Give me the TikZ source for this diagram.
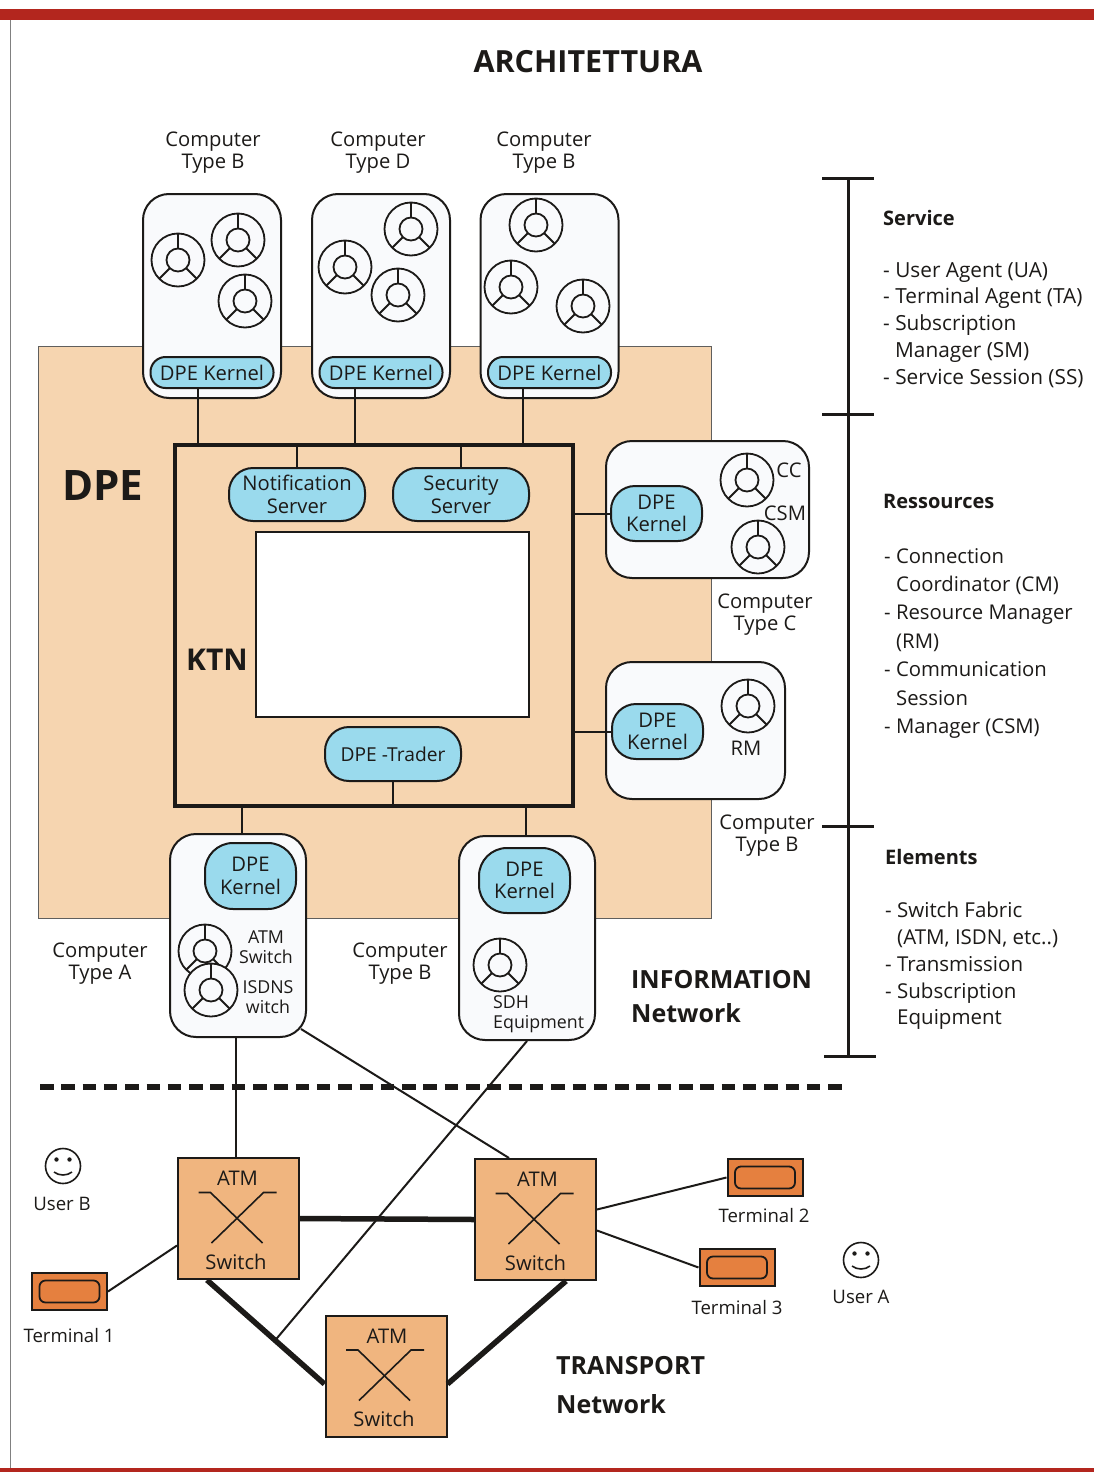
\documentclass[tikz,border=0pt]{standalone}
\usepackage{fontspec}
\setmainfont{Open Sans}
\usetikzlibrary{calc}
\definecolor{bandred}{HTML}{B3261E}
\definecolor{dpetan}{HTML}{F6D5B0}
\definecolor{kernelblue}{HTML}{9ADAED}
\definecolor{switchtan}{HTML}{F0B57F}
\definecolor{termorange}{HTML}{E5803F}
\definecolor{compwhite}{HTML}{F9FAFC}
\definecolor{inkdark}{HTML}{1C1A18}
\newcommand{\lab}{\fontsize{20.2}{22.5}\selectfont}
\newcommand{\smalllab}{\fontsize{17.8}{20.5}\selectfont}
\newcommand{\userlab}{\fontsize{18.6}{21}\selectfont}
\newcommand{\heading}{\fontsize{20}{24}\selectfont\bfseries}
\tikzset{
  every node/.style={text=inkdark,inner sep=0pt,align=center},
  comp/.style={draw=inkdark,line width=2pt,fill=compwhite,rounded corners=26pt},
  kernel/.style={draw=inkdark,line width=2pt,fill=kernelblue,rounded corners=15pt,font=\lab},
  server/.style={kernel,rounded corners=24pt,minimum width=136pt},
  kernelbig/.style={kernel,rounded corners=24pt,minimum width=91pt},
  swbox/.style={draw=inkdark,line width=2pt,fill=switchtan,minimum width=121pt,minimum height=121pt},
  term/.style={draw=inkdark,line width=2pt,fill=termorange,minimum width=75pt,minimum height=37pt},
  lbl/.style={font=\lab},
  link/.style={draw=inkdark,line width=2pt},
  trunk/.style={draw=inkdark,line width=5.5pt},
  agent/.pic={
    \draw[inkdark,line width=1.8pt,fill=compwhite] (0,0) circle (26.5);
    \draw[inkdark,line width=1.8pt] (0,0) circle (11.5);
    \foreach \a in {270,135,45}
      \draw[inkdark,line width=1.8pt] (\a:11.5) -- (\a:26.5);
  },
  smiley/.pic={
    \draw[inkdark,line width=1.6pt] (0,0) circle (17.5);
    \fill[inkdark] (-6.5,-6.5) circle (2.2) (6.5,-6.5) circle (2.2);
    \draw[inkdark,line width=1.6pt] (-9,6) .. controls (-4,10) and (4,10) .. (9,6);
  },
  crossing/.pic={
    \draw[inkdark,line width=1.6pt] (-40,-26) -- (-28,-26) -- (24,24.5);
    \draw[inkdark,line width=1.6pt] (38,-26) -- (25,-26) -- (-27,24.5);
  }
}
\begin{document}
\begin{tikzpicture}[x=1pt,y=-1pt]
\useasboundingbox (0,0) rectangle (1094,1472);
\fill[white] (0,0) rectangle (1094,1472);
\fill[bandred] (0,9) rectangle (1094,20);
\fill[bandred] (0,1468) rectangle (1094,1472);
\draw[gray,line width=1pt] (10,20) -- (10,1468);
\node[font=\fontsize{30.5}{34}\selectfont\bfseries] (title) at (588,62) {ARCHITETTURA};

\node[draw=inkdark!70,line width=.8pt,fill=dpetan,minimum width=673pt,minimum height=572pt] (dpe) at (374.5,632) {};
\node[font=\fontsize{42}{46}\selectfont\bfseries] (dpelabel) at (103,486) {DPE};

\node[draw=inkdark,line width=4.5pt,minimum width=398pt,minimum height=361pt] (ktn) at (374,625.5) {};
\node[draw=inkdark,line width=1.2pt,fill=white,minimum width=273pt,minimum height=185pt] (blank) at (392.5,624.5) {};
\node[font=\fontsize{30}{34}\selectfont\bfseries] (ktnlabel) at (217,660) {KTN};
\node[server,minimum height=53pt] (notif) at (297,494.5) {Notification\\Server};
\node[server,minimum height=53pt] (secur) at (461,494.5) {Security\\Server};
\node[server,minimum height=54pt,font=\fontsize{19.2}{22}\selectfont] (trader) at (393,754) {DPE -Trader};
\draw[link] (notif.north) -- (ktn.north -| notif.north);
\draw[link] (secur.north) -- (ktn.north -| secur.north);
\draw[link] (trader.south) -- (ktn.south -| trader.south);

\foreach \n/\x/\lx/\t in {compba/212/213/Type B,compd/381/378/Type D,compbb/549.5/544/Type B} {
  \node[comp,minimum width=138pt,minimum height=204pt] (\n) at (\x,296) {};
  \node[kernel,minimum width=123pt,minimum height=31pt] (\n kernel) at (\x,372.5) {DPE Kernel};
  \node[lbl] (\n label) at (\lx,152.5) {Computer\\\t};
}
\foreach \x/\y in {178/260,238/240,245/301,345/267,411/229,398/295,536/225,511/287,583/306}
  \pic at (\x,\y) {agent};
\foreach \n/\x in {compba/198,compd/355,compbb/523}
  \draw[link] (\n kernel.south -| \x,0) -- (ktn.north -| \x,0);

\node[comp,minimum width=203pt,minimum height=137pt] (compc) at (707.5,509.5) {};
\node[kernelbig,minimum height=55pt] (compc kernel) at (656.5,513.5) {DPE\\Kernel};
\pic at (747,480) {agent};
\pic at (758,547) {agent};
\node[lbl] (cclabel) at (789,470) {CC};
\node[lbl] (csmlabel) at (785,513) {CSM};
\node[lbl] (compc label) at (765,614.5) {Computer\\Type C};
\draw[link] (compc kernel.west) -- (ktn.east |- compc kernel.west);

\node[comp,minimum width=179pt,minimum height=137pt] (compr) at (695.5,730.5) {};
\node[kernelbig,minimum height=55pt] (compr kernel) at (657.5,731.5) {DPE\\Kernel};
\pic at (748,706) {agent};
\node[lbl] (rmlabel) at (746,748) {RM};
\node[lbl] (compr label) at (767,835.5) {Computer\\Type B};
\draw[link] (compr kernel.west) -- (ktn.east |- compr kernel.west);

\node[comp,minimum width=136pt,minimum height=203pt] (compa) at (238,935.5) {};
\node[kernelbig,rounded corners=28pt,minimum height=66pt] (compa kernel) at (250.5,876) {DPE\\Kernel};
\pic at (205,951) {agent};
\pic at (211,990) {agent};
\node[font=\smalllab] (atmlabel) at (266,947) {ATM\\Switch};
\node[font=\smalllab] (isdnlabel) at (268,997) {ISDNS\\witch};
\node[lbl] (compa label) at (100,963.5) {Computer\\Type A};
\draw[link] (ktn.south -| 242,0) -- (compa.north -| 242,0);

\node[comp,minimum width=136pt,minimum height=204pt] (compe) at (527,938) {};
\node[kernelbig,rounded corners=28pt,minimum height=65pt] (compe kernel) at (524.5,880.5) {DPE\\Kernel};
\pic at (500,965) {agent};
\node[font=\smalllab,align=left,anchor=west] (sdhlabel) at (493,1014) {SDH\\Equipment};
\node[lbl] (compe label) at (400,963.5) {Computer\\Type B};
\draw[link] (ktn.south -| 526,0) -- (compe.north -| 526,0);

\node[anchor=west,font=\fontsize{25}{34}\selectfont\bfseries,align=left] (infolabel) at (631,997) {INFORMATION\\Network};

\coordinate (scaletop) at (848,178);
\coordinate (scaleend) at (848,1056);
\draw[inkdark,line width=3pt] (scaletop) -- (scaleend);
\foreach \x/\y in {848/178,848/414,848/826,850/1056}
  \draw[inkdark,line width=3pt] (\x-26,\y) -- (\x+26,\y);

\node[anchor=west,font=\heading] (servhead) at (883,218) {Service};
\node[anchor=north west,align=left,font=\fontsize{20.8}{26.8}\selectfont] (servlist) at (883,262) {- User Agent (UA)\\- Terminal Agent (TA)\\- Subscription\\\hspace*{12pt}Manager (SM)\\- Service Session (SS)};
\node[anchor=west,font=\heading] (reshead) at (883,501) {Ressources};
\node[anchor=north west,align=left,font=\fontsize{20.3}{28.4}\selectfont] (reslist) at (884,548) {- Connection\\\hspace*{12pt}Coordinator (CM)\\- Resource Manager\\\hspace*{12pt}(RM)\\- Communication\\\hspace*{12pt}Session\\- Manager (CSM)};
\node[anchor=west,font=\heading] (elemhead) at (885,857) {Elements};
\node[anchor=north west,align=left,font=\fontsize{20.5}{26.8}\selectfont] (elemlist) at (885,902) {- Switch Fabric\\\hspace*{12pt}(ATM, ISDN, etc..)\\- Transmission\\- Subscription\\\hspace*{12pt}Equipment};

\coordinate (dashstart) at (40,1087);
\coordinate (dashend) at (842,1087);
\draw[inkdark,line width=6pt,dash pattern=on 13.5pt off 7.8pt] (dashstart) -- (dashend);

\foreach \n/\x/\y/\ax/\bx in {swa/238.5/1218.5/237.5/236,swb/535.5/1219.5/537.5/535.5,swc/386/1376/387/384} {
  \node[swbox] (\n) at (\x,\y) {};
  \pic at (\x,\y) {crossing};
  \node[lbl] (\n top) at (\ax,\y-40) {ATM};
  \node[lbl] (\n bot) at (\bx,\y+43) {Switch};
}
\foreach \n/\x/\y/\lx/\ly/\t in {terma/69.5/1291.5/69/1336/Terminal 1,termb/765/1177.5/764/1216/Terminal 2,termc/737/1267.5/737/1308/Terminal 3} {
  \node[term] (\n) at (\x,\y) {};
  \node[draw=inkdark,line width=1.8pt,rounded corners=6pt,minimum width=60pt,minimum height=22pt] (\n inner) at (\x,\y) {};
  \node[font=\userlab] (\n label) at (\lx,\ly) {\t};
}
\pic at (63,1166) {smiley};
\node[font=\userlab] (userb) at (62,1204) {User B};
\pic at (861,1260) {smiley};
\node[font=\userlab] (usera) at (861,1297) {User A};

\draw[link] (compa.south -| 236,0) -- (swa.north -| 236,0);
\draw[link] ($(compa.south east)+(-6,-9)$) -- ($(swb.north west)+(35,0)$);
\draw[trunk] (swa.east) -- (swb.west);
\draw[trunk] ($(swa.south west)+(30,0)$) -- ($(swc.west)+(0,8)$) coordinate[pos=.58] (trunkhit);
\draw[trunk] ($(swc.east)+(0,8)$) -- ($(swb.south east)+(-31,0)$);
\draw[link] (compe.south) -- (trunkhit);
\draw[link] (terma.east) -- ($(swa.west)+(0,27)$);
\draw[link] (termb.west) -- ($(swb.east)+(0,-10)$);
\draw[link] (termc.west) -- ($(swb.east)+(0,11)$);

\node[anchor=west,font=\fontsize{25}{39}\selectfont\bfseries,align=left] (translabel) at (556,1385) {TRANSPORT\\Network};
\end{tikzpicture}
\end{document}
